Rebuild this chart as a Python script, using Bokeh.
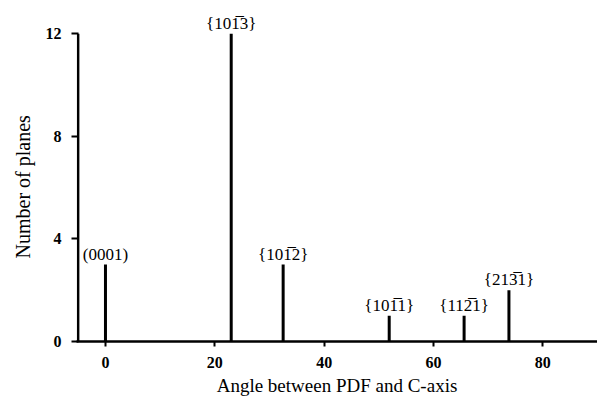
from bokeh.plotting import figure
from bokeh.models import ColumnDataSource, FixedTicker, LabelSet, Title
from bokeh.embed import file_html
from bokeh.resources import INLINE

angles = [0.0, 23.0, 32.5, 51.9, 65.6, 73.8]
counts = [3, 12, 3, 1, 1, 2]
labels = ["(0001)", "{101\u03053}", "{101\u03052}", "{101\u03051}", "{112\u03051}", "{213\u03051}"]
x_ticks = [0, 20, 40, 60, 80]
y_ticks = [0, 4, 8, 12]
y_axis_top = 12
x_axis_start = -5

src = ColumnDataSource(dict(x=angles, y=counts, y0=[0] * len(counts), lab=labels))

# frame extends above 12 and slightly left of -5 so labels are not clipped;
# the visible y axis line is drawn as a segment from 0 to 12 at x=-5
p = figure(width=597, height=399, output_backend="svg", toolbar_location=None,
           x_range=(-5.3, 90), y_range=(0, 13.3),
           min_border_left=76, min_border_right=0, min_border_top=0, min_border_bottom=58)
p.outline_line_color = None
p.grid.visible = False
p.background_fill_color = "white"

p.segment(x0=[x_axis_start], y0=[0], x1=[x_axis_start], y1=[y_axis_top],
          line_width=2.5, line_color="black")
p.segment(x0="x", y0="y0", x1="x", y1="y", source=src, line_width=3, line_color="black")
labs = LabelSet(x="x", y="y", text="lab", source=src, text_align="center", text_baseline="bottom",
                text_font="Liberation Serif", text_font_size="17px", text_color="black", y_offset=1)
p.add_layout(labs)

for ax in (p.xaxis[0], p.yaxis[0]):
    ax.axis_line_width = 2.5
    ax.axis_line_color = "black"
    ax.major_tick_line_width = 2
    ax.major_tick_line_color = "black"
    ax.major_tick_out = 5
    ax.major_tick_in = 0
    ax.minor_tick_line_color = None
    ax.major_label_text_font = "Liberation Serif"
    ax.major_label_text_font_style = "bold"
    ax.major_label_text_font_size = "16px"
    ax.major_label_text_color = "black"
    ax.axis_label_text_font = "Liberation Serif"
    ax.axis_label_text_font_style = "normal"
    ax.axis_label_text_font_size = "19px"
    ax.axis_label_text_color = "black"

p.yaxis.axis_line_color = None
p.yaxis.major_tick_in = 2
p.xaxis.ticker = FixedTicker(ticks=x_ticks)
p.yaxis.ticker = FixedTicker(ticks=y_ticks)
p.xaxis.axis_label = "Angle between PDF and C-axis"
p.xaxis.major_label_standoff = 10
p.yaxis.major_label_standoff = 10
p.xaxis.axis_label_standoff = 4

ytitle = Title(text="Number of planes", align="left", offset=83, standoff=18,
               text_font="Liberation Serif", text_font_style="normal",
               text_font_size="20px", text_color="black")
p.add_layout(ytitle, "left")

open("out.html", "w").write(file_html(p, INLINE))
